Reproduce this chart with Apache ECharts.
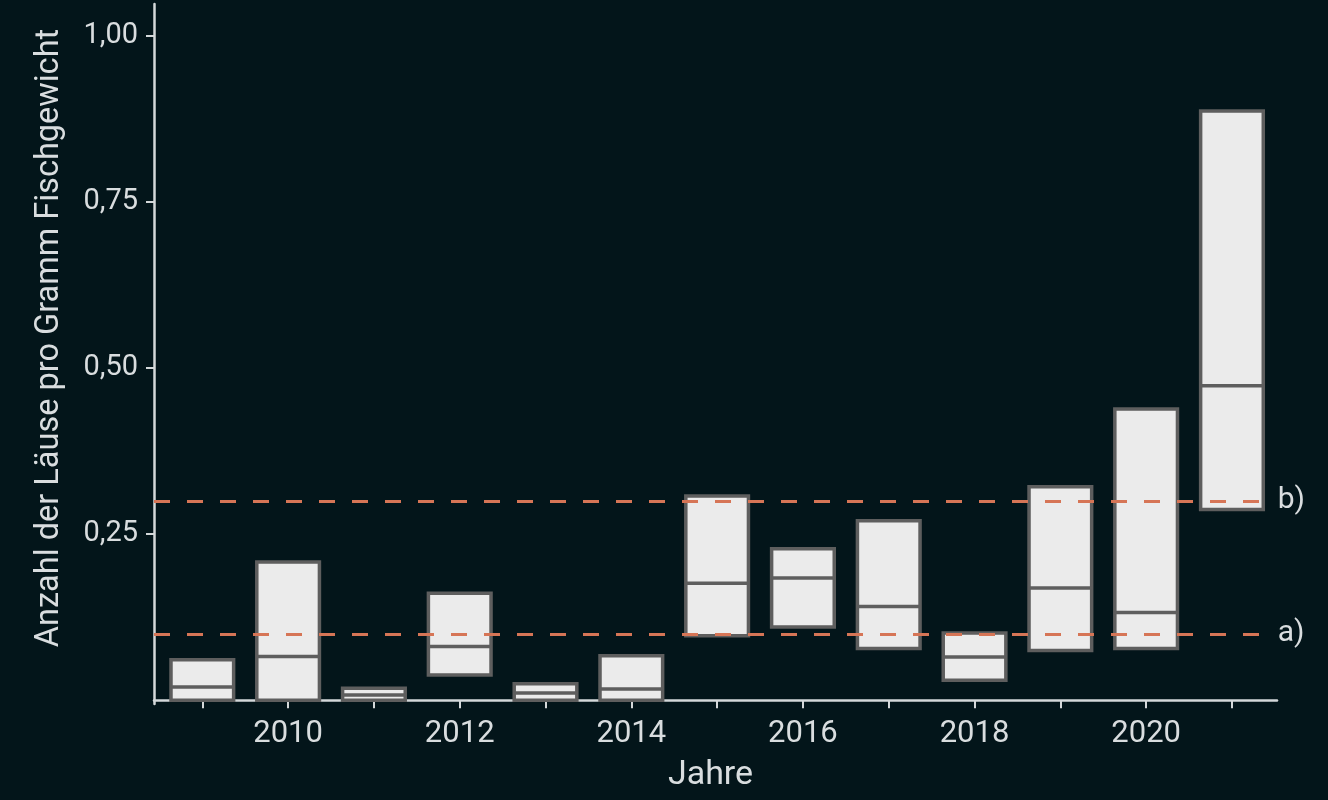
<!DOCTYPE html>
<html>
<head>
<meta charset="utf-8">
<script src="https://cdn.jsdelivr.net/npm/echarts@6/dist/echarts.min.js"></script>
<style>
html,body{margin:0;padding:0;background:#03151a;}
#c{width:1328px;height:800px;}
</style>
</head>
<body>
<div id="c"></div>
<script>
const years  = [2009, 2010, 2011, 2012, 2013, 2014, 2015, 2016, 2017, 2018, 2019, 2020, 2021];
const lower  = [0.000, 0.000, 0.000, 0.038, 0.000, 0.000, 0.097, 0.110, 0.078, 0.030, 0.075, 0.078, 0.287];
const median = [0.020, 0.066, 0.008, 0.081, 0.011, 0.017, 0.176, 0.184, 0.141, 0.065, 0.169, 0.132, 0.473];
const upper  = [0.061, 0.208, 0.018, 0.161, 0.025, 0.067, 0.307, 0.228, 0.270, 0.101, 0.321, 0.438, 0.886];
const yTicks = [0.25, 0.5, 0.75, 1.0];
const xLabelYears = [2010, 2012, 2014, 2016, 2018, 2020];
const refLines = [{ value: 0.3, label: 'b)' }, { value: 0.1, label: 'a)' }];
const xTitle = 'Jahre';
const yTitle = 'Anzahl der Läuse pro Gramm Fischgewicht';

const textColor = '#d9dddf';
const axisColor = '#d4d8da';
const data = years.map((y, i) => [y, lower[i], median[i], upper[i]]);

const chart = echarts.init(document.getElementById('c'), null, { renderer: 'canvas' });
chart.setOption({
  backgroundColor: '#03151a',
  animation: false,
  grid: { left: 154, right: 51, top: 4, bottom: 96, containLabel: false },
  xAxis: {
    type: 'value', min: 2008.437, max: 2021.525,
    name: xTitle, nameLocation: 'middle', nameGap: 54,
    nameTextStyle: { color: textColor, fontSize: 34, fontFamily: 'Roboto', padding: [0, 10, 0, 0] },
    axisLine: { show: true, lineStyle: { color: axisColor, width: 2.5 } },
    axisTick: { show: true, length: 8, lineStyle: { color: axisColor, width: 2 }, customValues: years },
    axisLabel: { color: textColor, fontSize: 31, fontFamily: 'Roboto', margin: 15,
                 customValues: xLabelYears, formatter: v => String(Math.round(v)) },
    splitLine: { show: false }
  },
  yAxis: {
    type: 'value', min: -0.0056, max: 1.047,
    axisLine: { show: true, lineStyle: { color: axisColor, width: 2.5 } },
    axisTick: { show: true, length: 8, lineStyle: { color: axisColor, width: 2 }, customValues: yTicks },
    axisLabel: { color: textColor, fontSize: 29, fontFamily: 'Roboto', margin: 16,
                 customValues: yTicks, formatter: v => v.toFixed(2).replace('.', ',') },
    splitLine: { show: false }
  },
  graphic: [{
    type: 'text',
    x: 50, y: 338, rotation: Math.PI / 2,
    style: { text: yTitle, fill: textColor, font: '32.5px Roboto', align: 'center', verticalAlign: 'middle' }
  }],
  series: [{
    type: 'custom',
    data: data,
    encode: { x: 0, y: [1, 2, 3] },
    clip: false,
    renderItem: function (params, api) {
      const x = api.value(0);
      const lo = api.coord([x, api.value(1)]);
      const md = api.coord([x, api.value(2)]);
      const hi = api.coord([x, api.value(3)]);
      const w = api.size([0.73, 0])[0];
      const x0 = lo[0] - w / 2;
      return {
        type: 'group',
        children: [
          { type: 'rect', shape: { x: x0, y: hi[1], width: w, height: lo[1] - hi[1] },
            style: { fill: '#ebebeb', stroke: '#5e5e5e', lineWidth: 3.5 } },
          { type: 'line', shape: { x1: x0, y1: md[1], x2: x0 + w, y2: md[1] },
            style: { stroke: '#5e5e5e', lineWidth: 3.5 } }
        ]
      };
    },
    markLine: {
      silent: true, symbol: 'none', animation: false,
      lineStyle: { color: '#d67556', width: 3, type: [16, 17] },
      label: { show: true, position: 'end', color: textColor, fontSize: 30, fontFamily: 'Roboto', distance: 8 },
      data: refLines.map(r => [
        { coord: [2008.437, r.value] },
        { coord: [2021.44, r.value], label: { formatter: r.label } }
      ])
    },
    z: 2
  }]
});
</script>
</body>
</html>
